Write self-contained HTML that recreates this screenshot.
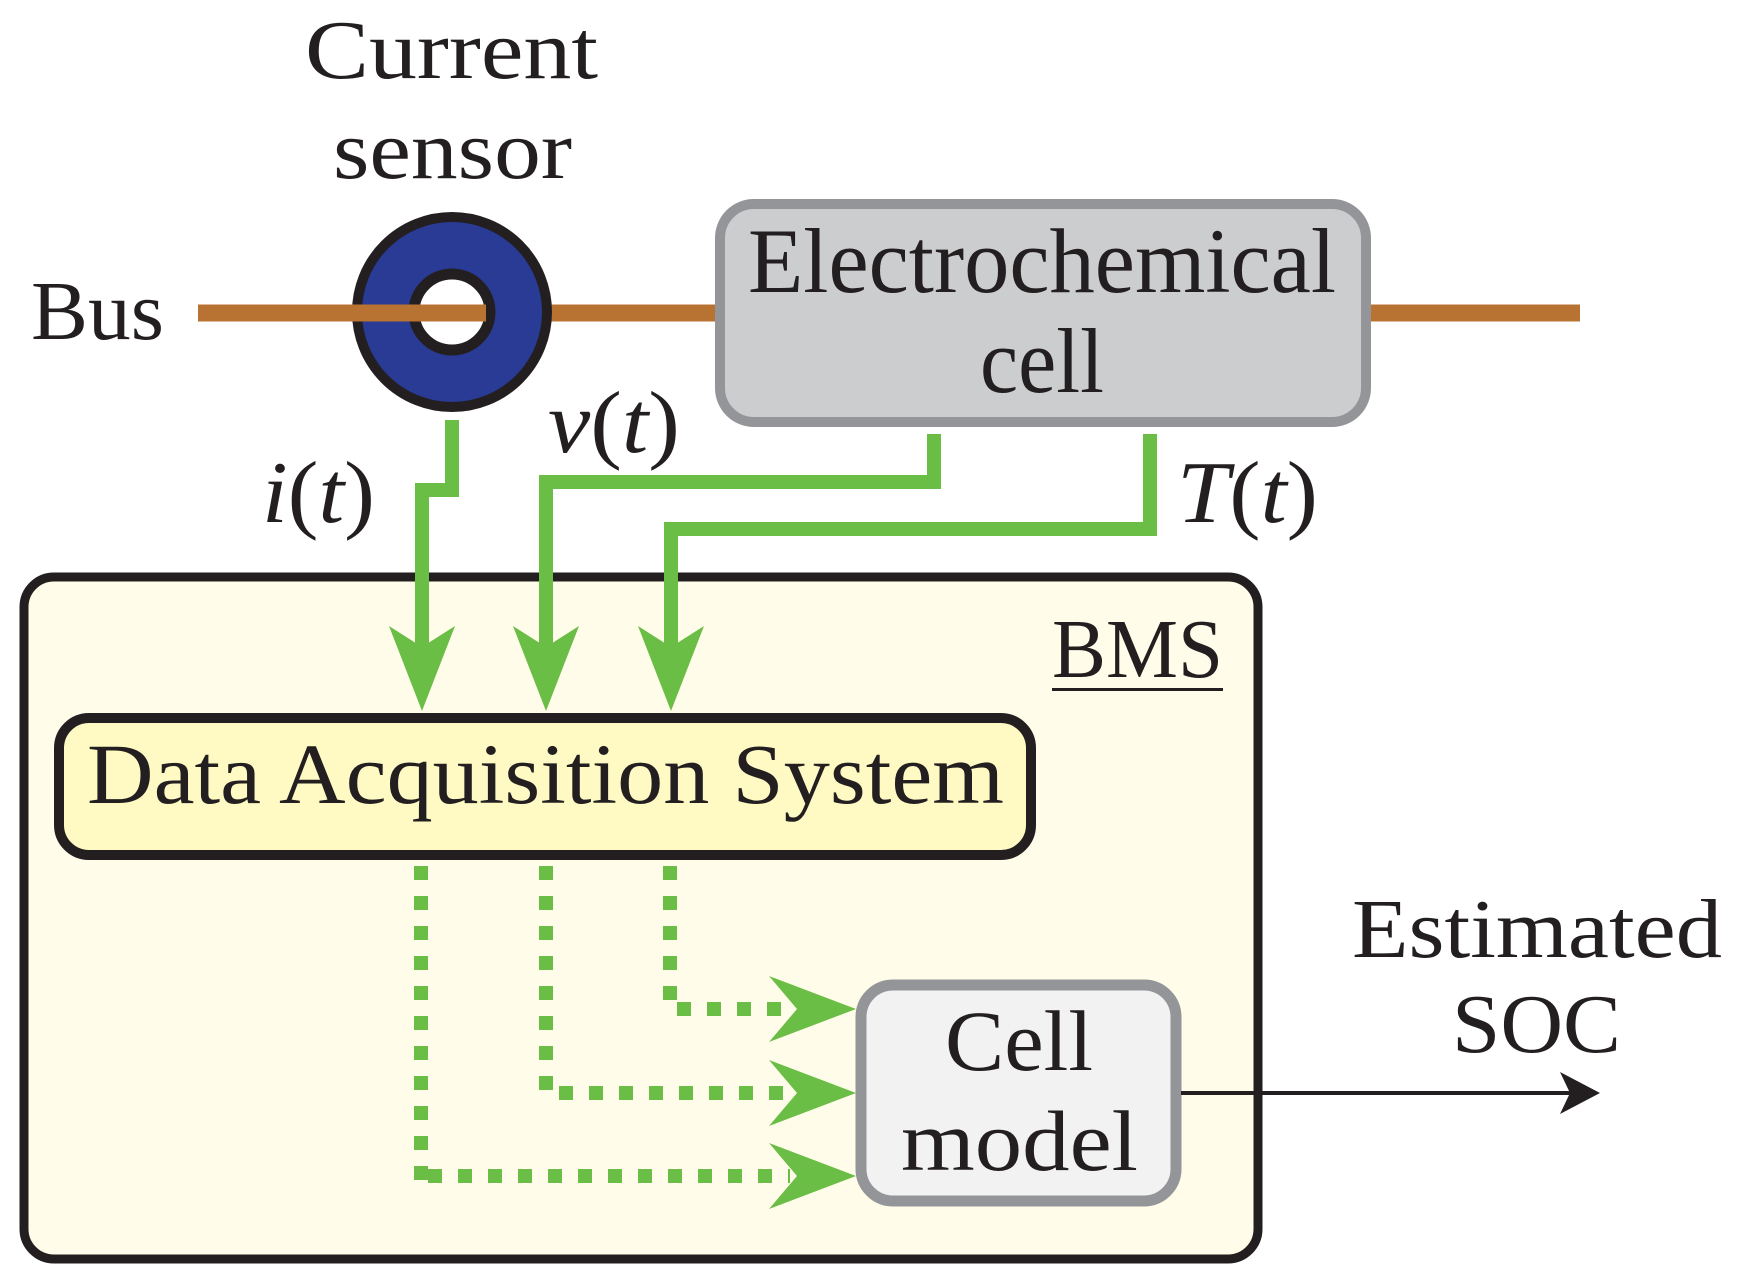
<!DOCTYPE html>
<html><head><meta charset="utf-8"><style>html,body{margin:0;padding:0;background:#fff}svg{display:block}</style></head>
<body>
<svg width="1740" height="1280" viewBox="0 0 1740 1280" xmlns="http://www.w3.org/2000/svg" font-family="'Liberation Serif', serif" fill="#231f20">
<defs>
<path id="ad" d="M0,0 L-33,-85 L0,-64 L33,-85 Z" fill="#6abd45"/>
<path id="ar" d="M0,0 L-87,-33 L-59,0 L-87,33 Z" fill="#6abd45"/>
</defs>
<!-- texts top -->
<text x="305" y="78" font-size="84" textLength="293" lengthAdjust="spacingAndGlyphs">Current</text>
<text x="333" y="178" font-size="84" textLength="239" lengthAdjust="spacingAndGlyphs">sensor</text>
<text x="31" y="339" font-size="84" textLength="133" lengthAdjust="spacingAndGlyphs">Bus</text>

<!-- bus -->
<line x1="550" y1="313" x2="720" y2="313" stroke="#b87333" stroke-width="17"/>
<line x1="1365" y1="313" x2="1580" y2="313" stroke="#b87333" stroke-width="17"/>
<!-- ring -->
<circle cx="452" cy="312" r="95" fill="#2a3b96" stroke="#231f20" stroke-width="10"/>
<circle cx="452" cy="312" r="38" fill="#fff" stroke="#231f20" stroke-width="11"/>
<line x1="198" y1="313" x2="486" y2="313" stroke="#b87333" stroke-width="17"/>

<!-- electrochemical cell -->
<rect x="720" y="204" width="646" height="218" rx="34" fill="#cccdcf" stroke="#939598" stroke-width="10"/>
<text x="748" y="292" font-size="92" textLength="588" lengthAdjust="spacingAndGlyphs">Electrochemical</text>
<text x="980" y="392" font-size="92" textLength="124" lengthAdjust="spacingAndGlyphs">cell</text>

<!-- BMS box -->
<rect x="24" y="577" width="1234" height="682" rx="30" fill="#fffde9" stroke="#231f20" stroke-width="9"/>
<text x="1052" y="677" font-size="84" textLength="171" lengthAdjust="spacingAndGlyphs">BMS</text>
<rect x="1052" y="688" width="171" height="3"/>

<!-- green solid lines -->
<g fill="none" stroke="#6abd45" stroke-width="14">
<polyline points="452,420 452,490 422,490 422,660"/>
<polyline points="934,434 934,482 546,482 546,660"/>
<polyline points="1150,434 1150,529 671,529 671,660"/>
</g>
<use href="#ad" x="422" y="711"/>
<use href="#ad" x="546" y="711"/>
<use href="#ad" x="671" y="711"/>

<!-- DAS -->
<rect x="59" y="718" width="972" height="137" rx="30" fill="#fffac3" stroke="#231f20" stroke-width="10"/>
<text x="87" y="803" font-size="86" textLength="917" lengthAdjust="spacingAndGlyphs">Data Acquisition System</text>

<!-- dotted lines -->
<g fill="none" stroke="#6abd45" stroke-width="14" stroke-dasharray="14 16">
<line x1="421" y1="866" x2="421" y2="1183"/>
<line x1="428" y1="1176" x2="790" y2="1176"/>
<line x1="546" y1="866" x2="546" y2="1090"/>
<line x1="559" y1="1093" x2="790" y2="1093"/>
<line x1="670" y1="866" x2="670" y2="1000"/>
<line x1="677" y1="1009" x2="790" y2="1009"/>
</g>
<use href="#ar" x="856" y="1009"/>
<use href="#ar" x="856" y="1093"/>
<use href="#ar" x="856" y="1176"/>

<!-- cell model -->
<rect x="861" y="985" width="315" height="216" rx="32" fill="#f2f2f2" stroke="#939598" stroke-width="11"/>
<text x="945" y="1070" font-size="86" textLength="148" lengthAdjust="spacingAndGlyphs">Cell</text>
<text x="901" y="1170" font-size="86" textLength="237" lengthAdjust="spacingAndGlyphs">model</text>

<!-- output arrow -->
<line x1="1181" y1="1093" x2="1590" y2="1093" stroke="#231f20" stroke-width="4"/>
<path d="M1600,1093 L1560,1072 L1570,1093 L1560,1114 Z"/>
<text x="1352" y="957" font-size="84" textLength="370" lengthAdjust="spacingAndGlyphs">Estimated</text>
<text x="1452" y="1052" font-size="84" textLength="169" lengthAdjust="spacingAndGlyphs">SOC</text>

<!-- math labels -->
<text x="262" y="522" font-size="88" textLength="113" lengthAdjust="spacingAndGlyphs"><tspan font-style="italic">i</tspan>(<tspan font-style="italic">t</tspan>)</text>
<text x="548" y="452" font-size="88" textLength="132" lengthAdjust="spacingAndGlyphs"><tspan font-style="italic">v</tspan>(<tspan font-style="italic">t</tspan>)</text>
<text x="1177" y="522" font-size="88" textLength="141" lengthAdjust="spacingAndGlyphs"><tspan font-style="italic">T</tspan>(<tspan font-style="italic">t</tspan>)</text>
</svg>
</body></html>
